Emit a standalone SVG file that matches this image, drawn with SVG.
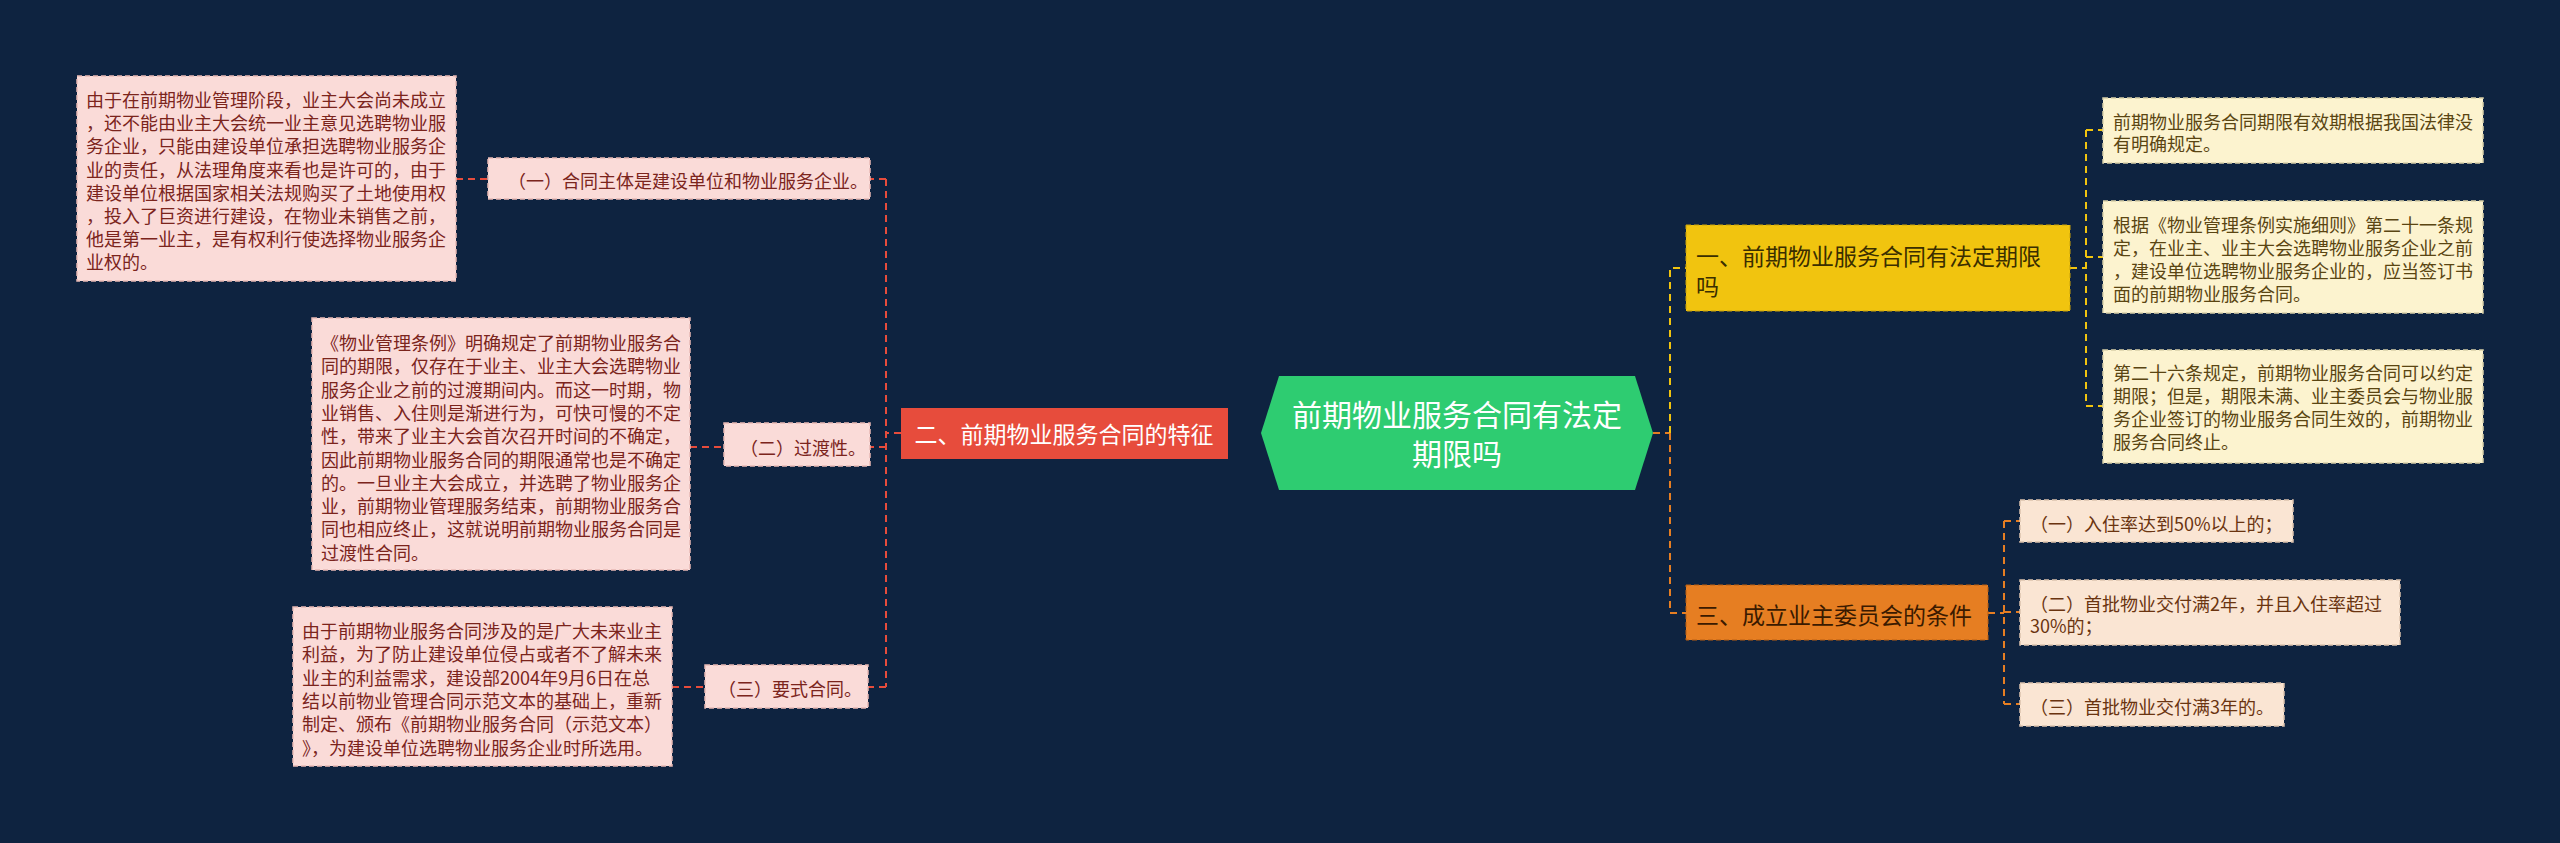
<svg xmlns="http://www.w3.org/2000/svg" width="2560" height="843" viewBox="0 0 2560 843">
<style>
text{font-family:"Noto Sans CJK SC","Noto Sans",sans-serif;dominant-baseline:central}
.pk{fill:#FADBD8;stroke:#e8b9b4;stroke-width:1.5;stroke-dasharray:5 3}
.pt{fill:#7B241C;font-size:18px}
.cr{fill:#FCF3CF;stroke:#d8cfa8;stroke-width:1.5;stroke-dasharray:5 3}
.ct{fill:#5a4512;font-size:18px}
.pc{fill:#FAE5D3;stroke:#dcc2ad;stroke-width:1.5;stroke-dasharray:5 3}
.cc{fill:#6a3410;font-size:18px}
.lr{stroke:#E74C3C;stroke-width:2;fill:none;stroke-dasharray:7 5}
.ly{stroke:#F1C40F;stroke-width:2;fill:none;stroke-dasharray:7 5}
.lo{stroke:#E67E22;stroke-width:2;fill:none;stroke-dasharray:7 5}
</style>
<rect width="2560" height="843" fill="#0e2340"/>
<g id="connectors">
<path class="lr" d="M901,433H886M886,179V687M886,179H870M886,447H870M886,687H868M456,179H488M690,447H724M672,687H705"/>
<path class="lo" d="M1653,433H1670M1670,433V613H1686"/>
<path class="ly" d="M1670,433V268H1686"/>
<path class="ly" d="M2070,268H2086M2086,130V406M2086,130H2103M2086,257H2103M2086,406H2103"/>
<path class="lo" d="M1988,613H2004M2004,521V704M2004,521H2020M2004,612H2020M2004,704H2020"/>
</g>
<g id="center">
<polygon points="1261,433 1279,376 1635,376 1653,433 1635,490 1279,490" fill="#2ECC71"/>
<text x="1457" y="413" text-anchor="middle" fill="#fff" font-size="30">前期物业服务合同有法定</text>
<text x="1457" y="452" text-anchor="middle" fill="#fff" font-size="30">期限吗</text>
</g>
<g id="n2">
<rect x="901" y="408" width="327" height="51" fill="#E74C3C"/>
<text x="1064" y="433" text-anchor="middle" fill="#fff" font-size="23">二、前期物业服务合同的特征</text>
</g>
<g id="n2a">
<rect class="pk" x="488" y="158" width="382" height="41"/>
<text class="pt" x="508" y="180">（一）合同主体是建设单位和物业服务企业。</text>
</g>
<g id="n2a1">
<rect class="pk" x="77" y="76" width="379" height="205"/>
<text class="pt" x="86" y="99">由于在前期物业管理阶段，业主大会尚未成立</text>
<text class="pt" x="86" y="122.2">，还不能由业主大会统一业主意见选聘物业服</text>
<text class="pt" x="86" y="145.4">务企业，只能由建设单位承担选聘物业服务企</text>
<text class="pt" x="86" y="168.6">业的责任，从法理角度来看也是许可的，由于</text>
<text class="pt" x="86" y="191.8">建设单位根据国家相关法规购买了土地使用权</text>
<text class="pt" x="86" y="215">，投入了巨资进行建设，在物业未销售之前，</text>
<text class="pt" x="86" y="238.2">他是第一业主，是有权利行使选择物业服务企</text>
<text class="pt" x="86" y="261.4">业权的。</text>
</g>
<g id="n2b">
<rect class="pk" x="724" y="423" width="146" height="43"/>
<text class="pt" x="740" y="447">（二）过渡性。</text>
</g>
<g id="n2b1">
<rect class="pk" x="312" y="318" width="378" height="252"/>
<text class="pt" x="321" y="342">《物业管理条例》明确规定了前期物业服务合</text>
<text class="pt" x="321" y="365.3">同的期限，仅存在于业主、业主大会选聘物业</text>
<text class="pt" x="321" y="388.6">服务企业之前的过渡期间内。而这一时期，物</text>
<text class="pt" x="321" y="411.9">业销售、入住则是渐进行为，可快可慢的不定</text>
<text class="pt" x="321" y="435.2">性，带来了业主大会首次召开时间的不确定，</text>
<text class="pt" x="321" y="458.5">因此前期物业服务合同的期限通常也是不确定</text>
<text class="pt" x="321" y="481.8">的。一旦业主大会成立，并选聘了物业服务企</text>
<text class="pt" x="321" y="505.1">业，前期物业管理服务结束，前期物业服务合</text>
<text class="pt" x="321" y="528.4">同也相应终止，这就说明前期物业服务合同是</text>
<text class="pt" x="321" y="551.7">过渡性合同。</text>
</g>
<g id="n2c">
<rect class="pk" x="705" y="665" width="163" height="43"/>
<text class="pt" x="718" y="688">（三）要式合同。</text>
</g>
<g id="n2c1">
<rect class="pk" x="293" y="607" width="379" height="159"/>
<text class="pt" x="302" y="630">由于前期物业服务合同涉及的是广大未来业主</text>
<text class="pt" x="302" y="653.3">利益，为了防止建设单位侵占或者不了解未来</text>
<text class="pt" x="302" y="676.6">业主的利益需求，建设部2004年9月6日在总</text>
<text class="pt" x="302" y="699.9">结以前物业管理合同示范文本的基础上，重新</text>
<text class="pt" x="302" y="723.2">制定、颁布《前期物业服务合同（示范文本）</text>
<text class="pt" x="302" y="746.5">》，为建设单位选聘物业服务企业时所选用。</text>
</g>
<g id="n1">
<rect x="1686" y="225" width="384" height="86" fill="#F1C40F" stroke="#c9a20a" stroke-dasharray="5 3"/>
<text x="1696" y="255" fill="#3a2e00" font-size="23">一、前期物业服务合同有法定期限</text>
<text x="1696" y="285" fill="#3a2e00" font-size="23">吗</text>
</g>
<g id="n1a">
<rect class="cr" x="2103" y="98" width="380" height="65"/>
<text class="ct" x="2113" y="121">前期物业服务合同期限有效期根据我国法律没</text>
<text class="ct" x="2113" y="143">有明确规定。</text>
</g>
<g id="n1b">
<rect class="cr" x="2103" y="201" width="380" height="112"/>
<text class="ct" x="2113" y="224">根据《物业管理条例实施细则》第二十一条规</text>
<text class="ct" x="2113" y="247">定，在业主、业主大会选聘物业服务企业之前</text>
<text class="ct" x="2113" y="270">，建设单位选聘物业服务企业的，应当签订书</text>
<text class="ct" x="2113" y="293">面的前期物业服务合同。</text>
</g>
<g id="n1c">
<rect class="cr" x="2103" y="350" width="380" height="113"/>
<text class="ct" x="2113" y="372">第二十六条规定，前期物业服务合同可以约定</text>
<text class="ct" x="2113" y="395">期限；但是，期限未满、业主委员会与物业服</text>
<text class="ct" x="2113" y="418">务企业签订的物业服务合同生效的，前期物业</text>
<text class="ct" x="2113" y="441">服务合同终止。</text>
</g>
<g id="n3">
<rect x="1686" y="585" width="302" height="55" fill="#E67E22" stroke="#b85f12" stroke-dasharray="5 3"/>
<text x="1696" y="614" fill="#3a1a00" font-size="23">三、成立业主委员会的条件</text>
</g>
<g id="n3a">
<rect class="pc" x="2020" y="500" width="273" height="42"/>
<text class="cc" x="2030" y="523">（一）入住率达到50%以上的；</text>
</g>
<g id="n3b">
<rect class="pc" x="2020" y="580" width="380" height="65"/>
<text class="cc" x="2030" y="603">（二）首批物业交付满2年，并且入住率超过</text>
<text class="cc" x="2030" y="625">30%的；</text>
</g>
<g id="n3c">
<rect class="pc" x="2020" y="683" width="264" height="43"/>
<text class="cc" x="2030" y="706">（三）首批物业交付满3年的。</text>
</g>
</svg>
